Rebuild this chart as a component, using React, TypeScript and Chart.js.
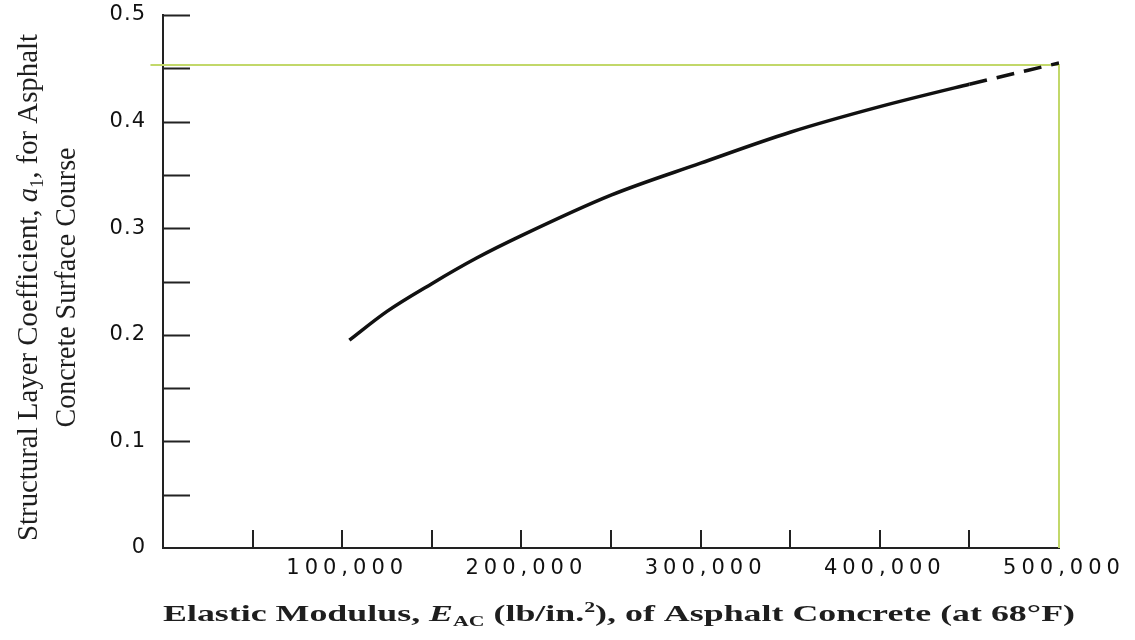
import React, { useEffect, useRef } from 'react';
import { Chart, registerables } from 'chart.js';

Chart.register(...registerables);

// ---- data ----
const modulusPsi = [104000, 125000, 150000, 175000, 200000, 250000, 300000, 350000, 400000, 450000, 500000];
const layerCoefficient = [0.195, 0.222, 0.248, 0.272, 0.293, 0.331, 0.361, 0.39, 0.414, 0.435, 0.455];
const dashedFromModulus = 450000;

const guideModulus = [-7000, 500000, 500000];
const guideCoefficient = [0.453, 0.453, 0];

const xMin = 0;
const xMax = 500000;
const xLabelStep = 100000;
const xMinorStep = 50000;
const yMin = 0;
const yMax = 0.5;
const yLabelStep = 0.1;
const yMinorStep = 0.05;

const xTitleParts = [
  { text: 'Elastic Modulus, ', kind: 'normal' },
  { text: 'E', kind: 'italic' },
  { text: 'AC', kind: 'sub' },
  { text: ' (lb/in.', kind: 'normal' },
  { text: '2', kind: 'sup' },
  { text: '), of Asphalt Concrete (at 68°F)', kind: 'normal' },
];
const yTitleLine1 = [
  { text: 'Structural Layer Coefficient, ', kind: 'normal' },
  { text: 'a', kind: 'italic' },
  { text: '1', kind: 'sub' },
  { text: ', for Asphalt', kind: 'normal' },
];
const yTitleLine2 = [{ text: 'Concrete Surface Course', kind: 'normal' }];

type Part = { text: string; kind: string };

function drawRich(
  ctx: CanvasRenderingContext2D,
  parts: Part[],
  size: number,
  weight: string,
  family: string,
  targetWidth: number
) {
  const fontFor = (k: string) => {
    if (k === 'italic') return `italic ${weight} ${size}px ${family}`;
    if (k === 'sub' || k === 'sup') return `${weight} ${Math.round(size * 0.62)}px ${family}`;
    return `${weight} ${size}px ${family}`;
  };
  const dyFor = (k: string) => (k === 'sub' ? size * 0.22 : k === 'sup' ? -size * 0.38 : 0);
  let total = 0;
  for (const p of parts) {
    ctx.font = fontFor(p.kind);
    total += ctx.measureText(p.text).width;
  }
  const sx = targetWidth / total;
  ctx.save();
  ctx.scale(sx, 1);
  let x = -total / 2;
  for (const p of parts) {
    ctx.font = fontFor(p.kind);
    ctx.fillText(p.text, x, dyFor(p.kind));
    x += ctx.measureText(p.text).width;
  }
  ctx.restore();
}

const decorPlugin = {
  id: 'decor',
  beforeDraw(chart: any) {
    (chart.ctx as any).letterSpacing = '5px';
  },
  beforeDatasetsDraw(chart: any) {
    const ctx: CanvasRenderingContext2D = chart.ctx;
    const xs = chart.scales.x;
    const ys = chart.scales.y;
    const { left, bottom } = chart.chartArea;
    ctx.save();
    ctx.strokeStyle = '#222';
    ctx.lineWidth = 2;
    ctx.beginPath();
    for (let v = yMin + yMinorStep; v <= yMax + 1e-9; v += yMinorStep) {
      const py = Math.round(ys.getPixelForValue(v)) + 0.5;
      ctx.moveTo(left, py);
      ctx.lineTo(left + 27, py);
    }
    for (let v = xMin + xMinorStep; v <= xMax + 1e-9; v += xMinorStep) {
      const px = Math.round(xs.getPixelForValue(v));
      ctx.moveTo(px, bottom);
      ctx.lineTo(px, bottom - 18);
    }
    ctx.stroke();
    ctx.restore();
  },
  afterDatasetsDraw(chart: any) {
    (chart.ctx as any).letterSpacing = '1px';
  },
  afterDraw(chart: any) {
    const ctx: CanvasRenderingContext2D = chart.ctx;
    const { left, right, top, bottom } = chart.chartArea;
    ctx.save();
    (ctx as any).letterSpacing = '0px';
    ctx.fillStyle = '#1e1e1e';
    ctx.textBaseline = 'alphabetic';
    ctx.textAlign = 'left';
    // x title
    ctx.save();
    ctx.translate((left + right + 16) / 2, bottom + 73);
    drawRich(ctx, xTitleParts as Part[], 23, 'bold', '"Liberation Serif", serif', right - left + 16);
    ctx.restore();
    // y title, two rotated lines
    const midY = (top + bottom) / 2 + 6;
    ctx.save();
    ctx.translate(37, midY);
    ctx.rotate(-Math.PI / 2);
    drawRich(ctx, yTitleLine1 as Part[], 29, 'normal', '"Liberation Serif", serif', 507);
    ctx.restore();
    ctx.save();
    ctx.translate(75, midY);
    ctx.rotate(-Math.PI / 2);
    drawRich(ctx, yTitleLine2 as Part[], 29, 'normal', '"Liberation Serif", serif', 280);
    ctx.restore();
    ctx.restore();
  },
};

export default function App() {
  const canvasRef = useRef<HTMLCanvasElement | null>(null);

  useEffect(() => {
    if (!canvasRef.current) return;
    const chart = new Chart(canvasRef.current, {
      type: 'line',
      data: {
        datasets: [
          {
            label: 'a1',
            data: modulusPsi.map((x, i) => ({ x, y: layerCoefficient[i] })),
            borderColor: '#111',
            borderWidth: 3.5,
            pointRadius: 0,
            fill: false,
            cubicInterpolationMode: 'monotone',
            segment: {
              borderDash: (c: any) => (c.p0.parsed.x >= dashedFromModulus ? [18, 10] : undefined),
            },
          },
          {
            label: 'guide',
            data: guideModulus.map((x, i) => ({ x, y: guideCoefficient[i] })),
            borderColor: '#c2d86a',
            borderWidth: 2,
            pointRadius: 0,
            fill: false,
            tension: 0,
            clip: false as any,
          },
        ],
      },
      options: {
        animation: false,
        responsive: true,
        maintainAspectRatio: false,
        layout: { autoPadding: false, padding: { top: 15, right: 76, bottom: 0, left: 0 } } as any,
        plugins: { legend: { display: false }, tooltip: { enabled: false } },
        scales: {
          x: {
            type: 'linear',
            min: xMin,
            max: xMax,
            grid: { display: false, drawTicks: false },
            border: { display: true, color: '#222', width: 2 },
            ticks: {
              stepSize: xLabelStep,
              autoSkip: false,
              maxRotation: 0,
              padding: 8,
              labelOffset: 5,
              color: '#111',
              font: { family: '"DejaVu Sans", sans-serif', size: 21 },
              callback: (v: any) => (Number(v) === 0 ? '' : Number(v).toLocaleString('en-US')),
            },
            afterFit: (s: any) => {
              s.height = 92;
              s.paddingLeft = 0;
              s.paddingRight = 0;
            },
          },
          y: {
            type: 'linear',
            min: yMin,
            max: yMax,
            grid: { display: false, drawTicks: false },
            border: { display: true, color: '#222', width: 2 },
            ticks: {
              stepSize: yLabelStep,
              padding: 17,
              z: 1,
              color: '#111',
              font: { family: '"DejaVu Sans", sans-serif', size: 21 },
              callback: (v: any) => (Number(v) === 0 ? '0' : Number(v).toFixed(1)),
            },
            afterFit: (s: any) => {
              s.width = 163;
              s.paddingTop = 0;
              s.paddingBottom = 0;
            },
          },
        },
      },
      plugins: [decorPlugin],
    } as any);
    return () => chart.destroy();
  }, []);

  return (
    <div style={{ position: 'absolute', left: 0, top: 0, width: 1135, height: 640, background: '#fff' }}>
      <canvas ref={canvasRef} />
    </div>
  );
}
